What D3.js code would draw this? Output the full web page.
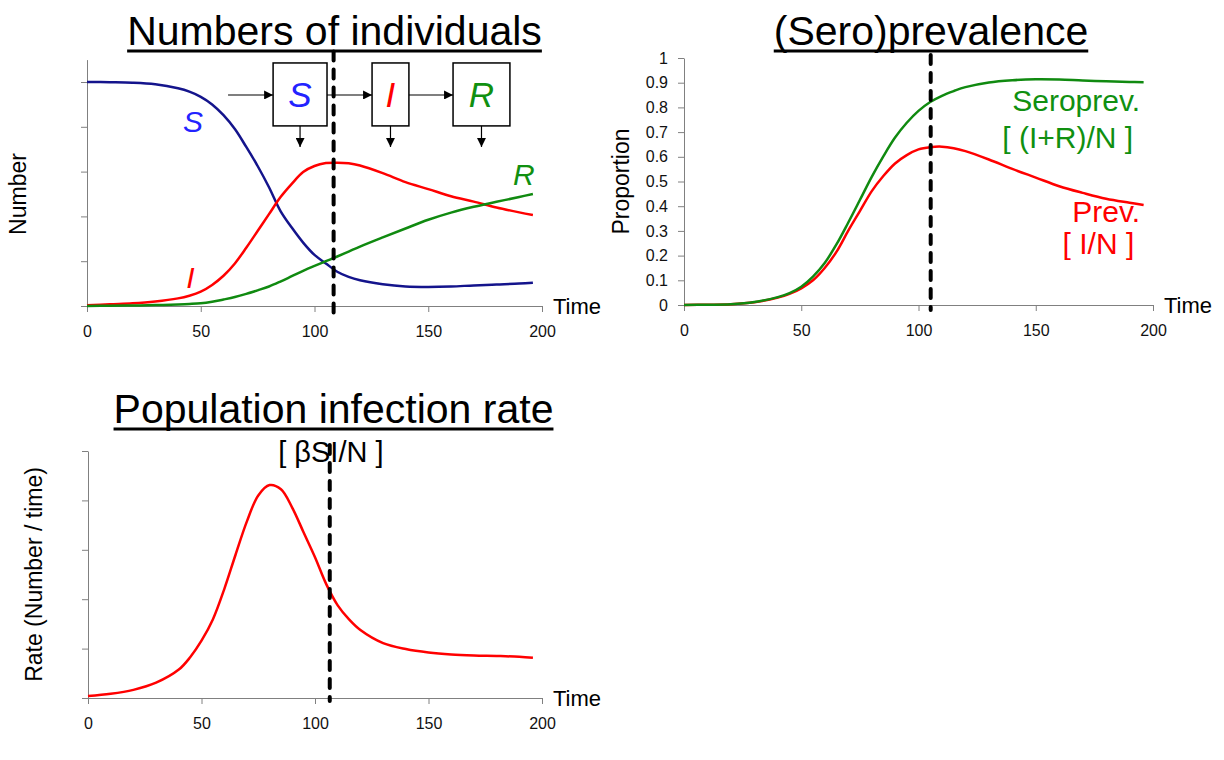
<!DOCTYPE html>
<html>
<head>
<meta charset="utf-8">
<script src="https://cdn.jsdelivr.net/npm/d3@7"></script>
<style>
  body { margin: 0; background: #fff; }
  svg text { font-family: "Liberation Sans", Arial, sans-serif; }
  .axis path, .axis line { stroke: #808080; }
  .axis text { font-size: 16px; fill: #111; }
  .title { font-size: 41px; fill: #000; }
  .axis-label { font-size: 23px; fill: #000; }
  .curve { fill: none; stroke-width: 2.5; }
</style>
</head>
<body>
<svg id="chart" width="1224" height="760"></svg>
<script>

// Time points
var times = [0, 10, 20, 30, 40, 45, 50, 55, 60, 65, 70, 75, 80, 85, 90, 95, 100, 105, 110, 115, 120, 130, 140, 150, 160, 170, 180, 190, 196];

// Numbers of individuals (fraction of N)
var susceptible = [1.0, 0.999, 0.997, 0.99, 0.972, 0.957, 0.934, 0.9, 0.852, 0.79, 0.71, 0.625, 0.53, 0.425, 0.35, 0.283, 0.228, 0.19, 0.153, 0.13, 0.115, 0.097, 0.087, 0.085, 0.087, 0.092, 0.096, 0.1, 0.104];
var infected = [0.003, 0.008, 0.012, 0.02, 0.034, 0.046, 0.064, 0.094, 0.135, 0.19, 0.26, 0.335, 0.41, 0.485, 0.545, 0.598, 0.625, 0.638, 0.64, 0.637, 0.627, 0.593, 0.553, 0.522, 0.49, 0.466, 0.44, 0.418, 0.406];
var recovered = [0, 0.001, 0.002, 0.004, 0.007, 0.009, 0.012, 0.019, 0.029, 0.04, 0.054, 0.07, 0.087, 0.109, 0.133, 0.157, 0.179, 0.2, 0.221, 0.243, 0.265, 0.306, 0.346, 0.385, 0.417, 0.443, 0.465, 0.487, 0.5];

// (Sero)prevalence
var seroprevalence = [0, 0.001, 0.003, 0.012, 0.032, 0.048, 0.074, 0.115, 0.17, 0.245, 0.333, 0.425, 0.518, 0.602, 0.678, 0.738, 0.786, 0.822, 0.847, 0.866, 0.882, 0.901, 0.91, 0.914, 0.913, 0.909, 0.906, 0.903, 0.902];
var prevalence = [0, 0.001, 0.003, 0.011, 0.03, 0.045, 0.0675, 0.1, 0.15, 0.215, 0.3, 0.38, 0.46, 0.522, 0.573, 0.607, 0.63, 0.639, 0.641, 0.635, 0.623, 0.589, 0.551, 0.516, 0.481, 0.454, 0.43, 0.414, 0.405];

// Population infection rate (relative units)
var infectionRate = [0.008, 0.017, 0.033, 0.062, 0.115, 0.165, 0.232, 0.318, 0.44, 0.58, 0.715, 0.82, 0.862, 0.845, 0.77, 0.67, 0.57, 0.46, 0.375, 0.318, 0.275, 0.222, 0.198, 0.184, 0.176, 0.172, 0.17, 0.167, 0.163];

// Ticks
var timeTicks = [0, 50, 100, 150, 200];
var numberTicks = [0, 0.2, 0.4, 0.6, 0.8, 1];
var proportionTicks = [0, 0.1, 0.2, 0.3, 0.4, 0.5, 0.6, 0.7, 0.8, 0.9, 1];
var rateTicks = [0, 0.2, 0.4, 0.6, 0.8, 1];

// Times of the dashed marker lines
var markTimeNumbers = 108.4;
var markTimePrev = 105.2;
var markTimeRate = 106.5;

// SIR compartments diagram
var boxLabels = ["S", "I", "R"];
var boxColors = ["#2323ff", "#ff0000", "#109010"];

var svg = d3.select("#chart");

// Arrow head marker
svg.append("defs").append("marker")
    .attr("id", "arrow")
    .attr("viewBox", "0 0 10 10")
    .attr("refX", 10)
    .attr("refY", 5)
    .attr("markerWidth", 9)
    .attr("markerHeight", 9)
    .attr("markerUnits", "userSpaceOnUse")
    .attr("orient", "auto")
  .append("path")
    .attr("d", "M0,0L10,5L0,10Z")
    .attr("fill", "#000");

// Scales of the three panels
var xNum = d3.scaleLinear().domain([0, 200]).range([87, 542]);
var yNum = d3.scaleLinear().domain([0, 1.1]).range([306, 59.6]);

var xPrev = d3.scaleLinear().domain([0, 200]).range([684, 1153]);
var yPrev = d3.scaleLinear().domain([0, 1]).range([305, 58]);

var xRate = d3.scaleLinear().domain([0, 200]).range([88, 542]);
var yRate = d3.scaleLinear().domain([0, 1]).range([698, 451]);

// Underlined title
function addTitle(text, cx, baseline) {
    var t = svg.append("text")
        .attr("class", "title")
        .attr("x", cx)
        .attr("y", baseline)
        .attr("text-anchor", "middle")
        .text(text);
    var w = t.node().getComputedTextLength();
    svg.append("line")
        .attr("x1", cx - w / 2)
        .attr("x2", cx + w / 2)
        .attr("y1", baseline + 6)
        .attr("y2", baseline + 6)
        .attr("stroke", "#000")
        .attr("stroke-width", 3);
}

// Axes, "Time" label and y label
function addAxes(x, y, yTicks, showYLabels, yLabel, yLabelX) {
    svg.append("g")
        .attr("class", "axis")
        .attr("transform", "translate(0," + y(0) + ")")
        .call(d3.axisBottom(x).tickValues(timeTicks).tickSize(6).tickSizeOuter(0).tickPadding(14));

    svg.append("g")
        .attr("class", "axis")
        .attr("transform", "translate(" + x(0) + ",0)")
        .call(d3.axisLeft(y).tickValues(yTicks).tickSize(6).tickSizeOuter(0).tickPadding(10)
            .tickFormat(showYLabels ? d3.format("") : ""));

    svg.append("text")
        .attr("x", x(200) + 11)
        .attr("y", y(0) + 8)
        .attr("font-size", 22)
        .text("Time");

    var cy = (y(0) + y(yTicks[yTicks.length - 1])) / 2;
    svg.append("text")
        .attr("class", "axis-label")
        .attr("text-anchor", "middle")
        .attr("transform", "translate(" + yLabelX + "," + cy + ") rotate(-90)")
        .attr("dy", "0.35em")
        .text(yLabel);
}

// Curve path
function addCurve(x, y, values, color) {
    var line = d3.line()
        .x(function(d, i) { return x(times[i]); })
        .y(function(d) { return y(d); })
        .curve(d3.curveCatmullRom.alpha(0.5));
    svg.append("path")
        .datum(values)
        .attr("class", "curve")
        .attr("stroke", color)
        .attr("d", line);
}

// Dashed marker line
function addMarker(x, t, y1, y2) {
    svg.append("line")
        .attr("x1", x(t))
        .attr("x2", x(t))
        .attr("y1", y1)
        .attr("y2", y2)
        .attr("stroke", "#000")
        .attr("stroke-width", 4)
        .attr("stroke-linecap", "round")
        .attr("stroke-dasharray", "9,9");
}

// ---------- Numbers of individuals ----------
addTitle("Numbers of individuals", 334.5, 45);
addAxes(xNum, yNum, numberTicks, false, "Number", 18);

addCurve(xNum, yNum, susceptible, "#14148c");
addCurve(xNum, yNum, infected, "#ff0000");
addCurve(xNum, yNum, recovered, "#108a10");

svg.append("text").attr("x", xNum(46.6)).attr("y", yNum(0.777))
    .attr("text-anchor", "middle").attr("font-size", 30).attr("font-style", "italic")
    .attr("fill", boxColors[0]).text("S");
svg.append("text").attr("x", xNum(45.5)).attr("y", yNum(0.08))
    .attr("text-anchor", "middle").attr("font-size", 30).attr("font-style", "italic")
    .attr("fill", boxColors[1]).text("I");
svg.append("text").attr("x", xNum(192)).attr("y", yNum(0.54))
    .attr("text-anchor", "middle").attr("font-size", 30).attr("font-style", "italic")
    .attr("fill", boxColors[2]).text("R");

// Compartment boxes (in panel data units)
var boxStart = [81.8, 125.3, 160.9];
var boxEnd = [105.5, 141.5, 185.9];
var boxTop = 1.085, boxBottom = 0.804, arrowLevel = 0.942, outflowEnd = 0.71;

boxLabels.forEach(function(lab, i) {
    var x0 = xNum(boxStart[i]), x1 = xNum(boxEnd[i]);
    svg.append("rect")
        .attr("x", x0)
        .attr("y", yNum(boxTop))
        .attr("width", x1 - x0)
        .attr("height", yNum(boxBottom) - yNum(boxTop))
        .attr("fill", "#fff")
        .attr("stroke", "#000")
        .attr("stroke-width", 1.5);
    svg.append("text")
        .attr("x", (x0 + x1) / 2)
        .attr("y", yNum(0.888))
        .attr("text-anchor", "middle")
        .attr("font-size", 35)
        .attr("font-style", "italic")
        .attr("fill", boxColors[i])
        .text(lab);
    // outflow arrow
    svg.append("line")
        .attr("x1", (x0 + x1) / 2).attr("x2", (x0 + x1) / 2)
        .attr("y1", yNum(boxBottom)).attr("y2", yNum(outflowEnd))
        .attr("stroke", "#000").attr("stroke-width", 1.2)
        .attr("marker-end", "url(#arrow)");
    // inflow arrow
    var from = i === 0 ? 62 : boxEnd[i - 1];
    svg.append("line")
        .attr("x1", xNum(from)).attr("x2", x0)
        .attr("y1", yNum(arrowLevel)).attr("y2", yNum(arrowLevel))
        .attr("stroke", "#000").attr("stroke-width", 1.2)
        .attr("marker-end", "url(#arrow)");
});

addMarker(xNum, markTimeNumbers, yNum(1.1) - 8, yNum(0) + 8);

// ---------- (Sero)prevalence ----------
addTitle("(Sero)prevalence", 931, 45);
addAxes(xPrev, yPrev, proportionTicks, true, "Proportion", 621);

addCurve(xPrev, yPrev, prevalence, "#ff0000");
addCurve(xPrev, yPrev, seroprevalence, "#108a10");

svg.append("text").attr("x", xPrev(194.5)).attr("y", yPrev(0.785))
    .attr("text-anchor", "end").attr("font-size", 30).attr("fill", "#109010").text("Seroprev.");
svg.append("text").attr("x", xPrev(191.5)).attr("y", yPrev(0.636))
    .attr("text-anchor", "end").attr("font-size", 30).attr("fill", "#109010").text("[ (I+R)/N ]");
svg.append("text").attr("x", xPrev(194.5)).attr("y", yPrev(0.335))
    .attr("text-anchor", "end").attr("font-size", 30).attr("fill", "#ff0000").text("Prev.");
svg.append("text").attr("x", xPrev(192)).attr("y", yPrev(0.205))
    .attr("text-anchor", "end").attr("font-size", 30).attr("fill", "#ff0000").text("[ I/N ]");

addMarker(xPrev, markTimePrev, yPrev(1) - 3, yPrev(0) + 5);

// ---------- Population infection rate ----------
addTitle("Population infection rate", 333.5, 423);
addAxes(xRate, yRate, rateTicks, false, "Rate (Number / time)", 34);

addCurve(xRate, yRate, infectionRate, "#ff0000");

svg.append("text").attr("x", xRate(107)).attr("y", yRate(0.955))
    .attr("text-anchor", "middle").attr("font-size", 29).attr("fill", "#000").text("[ βSI/N ]");

addMarker(xRate, markTimeRate, yRate(1) - 6, yRate(0) + 3);

</script>
</body>
</html>
